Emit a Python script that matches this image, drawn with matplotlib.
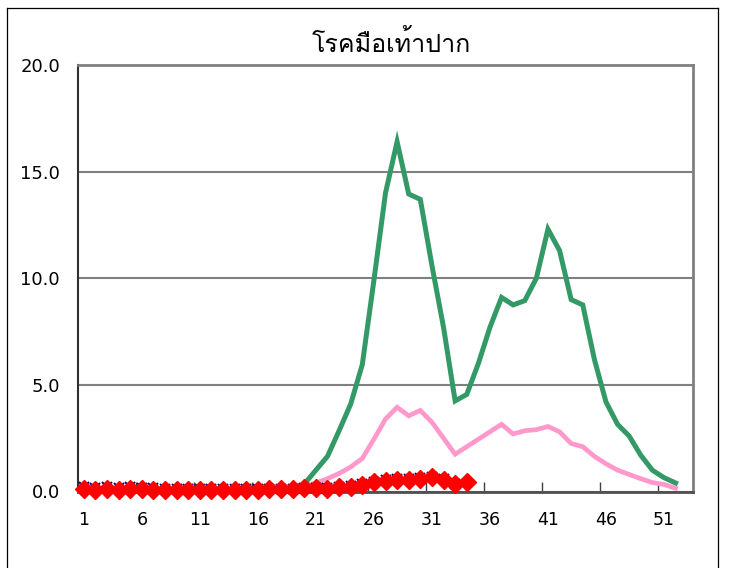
import matplotlib
matplotlib.use("Agg")
import matplotlib.pyplot as plt
from matplotlib import font_manager
from matplotlib.lines import Line2D
import numpy as np

# ---------------- data ----------------
title = "โรคมือเท้าปาก"
x_labels = ["1", "6", "11", "16", "21", "26", "31", "36", "41", "46", "51"]
y_ticks = [0, 5, 10, 15, 20]

green = [0.1, 0.1, 0.05, 0.1, 0.1, 0.05, 0.05, 0.05, 0.05, 0.05, 0.05, 0.05, 0.05, 0.05, 0.05, 0.05, 0.1, 0.1,
         0.15, 0.35, 1.0, 1.65, 2.85, 4.1, 5.95, 9.9, 14.0, 16.4, 13.95, 13.7, 10.6, 7.7, 4.25, 4.55,
         6.0, 7.7, 9.1, 8.75, 8.95, 10.0, 12.3, 11.3, 9.0, 8.75, 6.2, 4.2, 3.15, 2.6, 1.7, 1.0, 0.65, 0.4]
pink = [0.1, 0.1, 0.05, 0.1, 0.1, 0.05, 0.05, 0.05, 0.05, 0.05, 0.05, 0.05, 0.05, 0.05, 0.05, 0.05, 0.1, 0.1,
        0.15, 0.25, 0.4, 0.6, 0.85, 1.15, 1.55, 2.45, 3.4, 3.95, 3.55, 3.8, 3.25, 2.5, 1.75, 2.1,
        2.45, 2.8, 3.15, 2.7, 2.85, 2.9, 3.05, 2.8, 2.25, 2.1, 1.65, 1.3, 1.0, 0.8, 0.6, 0.42, 0.33, 0.15]
blue = [0.2, 0.15, 0.2, 0.15, 0.2, 0.15, 0.15, 0.1, 0.1, 0.1, 0.1, 0.1, 0.1, 0.1, 0.1, 0.1, 0.1, 0.1,
        0.1, 0.15, 0.15, 0.15, 0.2, 0.25, 0.35, 0.45, 0.55, 0.6, 0.6, 0.65, 0.7, 0.6, 0.35]
red = [0.1, 0.05, 0.1, 0.05, 0.1, 0.1, 0.05, 0.05, 0.05, 0.05, 0.05, 0.05, 0.05, 0.05, 0.05, 0.05, 0.1, 0.1,
       0.1, 0.15, 0.15, 0.1, 0.2, 0.2, 0.3, 0.45, 0.5, 0.55, 0.55, 0.6, 0.7, 0.55, 0.35, 0.45]

# ---------------- fonts ----------------
def find_thai_font():
    try:
        from fontTools.ttLib import TTFont
    except Exception:
        return None
    for fe in font_manager.fontManager.ttflist:
        try:
            f = TTFont(fe.fname, fontNumber=0, lazy=True)
            cmap = f.getBestCmap()
            if cmap and 0x0E42 in cmap and 0x0E23 in cmap:
                return fe.name
        except Exception:
            continue
    return None

thai = find_thai_font()
title_family = [thai, "DejaVu Sans"] if thai else ["DejaVu Sans"]
plt.rcParams['font.family'] = ["DejaVu Sans"]

# ---------------- figure ----------------
fig = plt.figure(figsize=(7.29, 5.68), dpi=100)
ax = fig.add_axes([78 / 729, 1 - 491.5 / 568, (693 - 78) / 729, (491.5 - 65) / 568])

# outer chart border
for xs, ys in [((7 / 729, 7 / 729), (-0.1, 1 - 8 / 568)),
               ((7 / 729, 718 / 729), (1 - 8 / 568, 1 - 8 / 568)),
               ((718 / 729, 718 / 729), (1 - 8 / 568, -0.1))]:
    fig.add_artist(Line2D(xs, ys, transform=fig.transFigure, color="black", lw=0.9))

wk_g = np.arange(1, len(green) + 1)
wk_p = np.arange(1, len(pink) + 1)
wk_b = np.arange(1, len(blue) + 1)
wk_r = np.arange(1, len(red) + 1)

ax.plot(wk_g, green, color="#339966", lw=3.6, zorder=3, solid_joinstyle="miter")
ax.plot(wk_p, pink, color="#FF99CC", lw=3.4, zorder=4, solid_joinstyle="miter")
ax.plot(wk_b, blue, color="#000080", lw=1.6, ls=(0, (1, 1.5)), marker="x", ms=7, mew=1.4, zorder=5,
        clip_on=False)
ax.plot(wk_r, red, color="#FF0000", lw=3, marker="D", ms=9.5, mec="#FF0000", zorder=6, clip_on=False)

ax.set_xlim(0.5, 53.5)
ax.set_ylim(0, 20)

# gridlines
ax.set_yticks(y_ticks)
ax.set_yticklabels([f"{v:.1f}" for v in y_ticks])
ax.yaxis.grid(True, color="#808080", lw=1.5)
ax.set_axisbelow(True)

# x ticks: marks at category boundaries, labels at category centres
ax.set_xticks(np.arange(0.5, 54, 5))
ax.set_xticklabels([])
ax.tick_params(axis="x", which="major", direction="in", length=7, color="#404040", width=1)
label_pos = [int(s) for s in x_labels]
ax.set_xticks(label_pos, minor=True)
ax.set_xticklabels(x_labels, minor=True)
ax.tick_params(axis="x", which="minor", length=0, pad=14, labelsize=12.5)
ax.tick_params(axis="y", direction="in", length=0, pad=13, labelsize=13)

for side in ["top", "right"]:
    ax.spines[side].set_color("#808080")
    ax.spines[side].set_linewidth(2)
ax.spines["left"].set_color("#303030")
ax.spines["left"].set_linewidth(1.5)
ax.spines["bottom"].set_color("#505050")
ax.spines["bottom"].set_linewidth(2)

fig.text(391 / 729, 1 - 44 / 568, title, ha="center", va="center", fontsize=18, family=title_family)

fig.savefig("out.png", dpi=100)
